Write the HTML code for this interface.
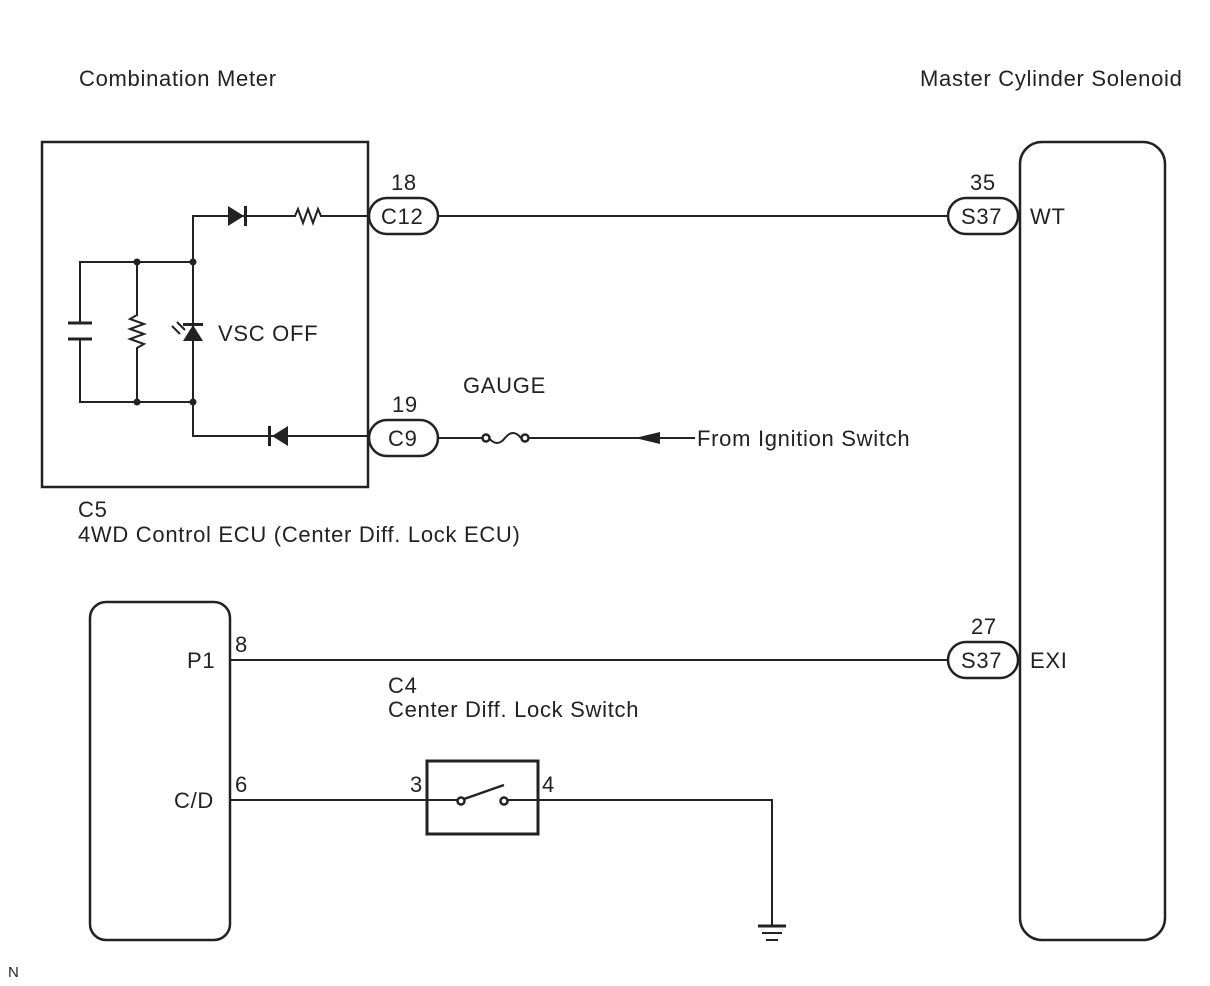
<!DOCTYPE html>
<html><head><meta charset="utf-8"><style>
html,body{margin:0;padding:0;background:#fff;}
svg{display:block;font-family:"Liberation Sans",Arial,sans-serif;}
text{fill:#222;font-size:22px;letter-spacing:0.7px;}
</style></head><body>
<svg width="1210" height="986" viewBox="0 0 1210 986" xmlns="http://www.w3.org/2000/svg">
<g stroke="#222" stroke-width="2.5" fill="none">
<rect x="42" y="142" width="326" height="345"/>
<rect x="1020" y="142" width="145" height="798" rx="22"/>
<rect x="90" y="602" width="140" height="338" rx="16"/>
<rect x="369" y="198" width="69" height="36" rx="18" fill="#fff"/>
<rect x="948" y="198" width="70" height="36" rx="18" fill="#fff"/>
<rect x="369" y="420" width="69" height="36" rx="18" fill="#fff"/>
<rect x="948" y="642" width="70" height="36" rx="18" fill="#fff"/>
<line x1="438" y1="216" x2="948" y2="216" stroke-width="2"/>
<line x1="438" y1="438" x2="483" y2="438" stroke-width="2"/>
<line x1="527" y1="438" x2="695" y2="438" stroke-width="2"/>
<line x1="230" y1="660" x2="948" y2="660" stroke-width="2"/>
<line x1="230" y1="800" x2="427" y2="800" stroke-width="2"/>
<polyline points="538,800 772,800 772,925" stroke-width="2"/>
<polyline points="368,216 325,216" stroke-width="2"/>
<polyline points="292,216 193,216 193,436 368,436" stroke-width="2"/>
<polyline points="292,216 295,216 298,209 303,223 308,209 313,223 318,209 321,216 325,216" stroke-width="2"/>
<polyline points="80,323 80,262 193,262" stroke-width="2"/>
<polyline points="80,339 80,402 193,402" stroke-width="2"/>
<line x1="68" y1="323" x2="92" y2="323" stroke-width="3"/>
<line x1="68" y1="339" x2="92" y2="339" stroke-width="3"/>
<polyline points="137,262 137,315 130,319 144,324 130,329 144,334 130,339 144,344 137,348 137,402" stroke-width="2"/>
<circle cx="486" cy="438" r="3.5" fill="#fff"/>
<circle cx="525" cy="438" r="3.5" fill="#fff"/>
<path d="M489 438 Q497 448 505 438 Q513 428 521 438" stroke-width="2"/>
<line x1="758" y1="926" x2="786" y2="926" stroke-width="3"/>
<line x1="762" y1="933" x2="782" y2="933" stroke-width="2"/>
<line x1="766" y1="940" x2="778" y2="940" stroke-width="2"/>
<rect x="427" y="761" width="111" height="73" stroke-width="3"/>
<line x1="427" y1="800" x2="458" y2="800" stroke-width="2"/>
<line x1="508" y1="800" x2="538" y2="800" stroke-width="2"/>
<circle cx="461" cy="801" r="3.5" fill="#fff"/>
<circle cx="504" cy="801" r="3.5" fill="#fff"/>
<line x1="464" y1="799" x2="504" y2="785" stroke-width="2.5"/>
<line x1="172" y1="326" x2="180" y2="334" stroke-width="2"/>
<line x1="177" y1="322" x2="185" y2="330" stroke-width="2"/>
</g>
<g fill="#222" stroke="none">
<polygon points="228,206 228,226 244,216"/>
<rect x="244" y="206" width="3" height="20"/>
<polygon points="288,426 288,446 272,436"/>
<rect x="268" y="426" width="3" height="20"/>
<polygon points="183,341 203,341 193,325"/>
<rect x="183" y="323" width="20" height="3"/>
<circle cx="137" cy="262" r="3.5"/><circle cx="193" cy="262" r="3.5"/>
<circle cx="137" cy="402" r="3.5"/><circle cx="193" cy="402" r="3.5"/>
<polygon points="635,438 660,432 660,444"/>
</g>
<text x="79" y="86">Combination Meter</text>
<text x="920" y="86">Master Cylinder Solenoid</text>
<text x="391" y="190">18</text>
<text x="381" y="224">C12</text>
<text x="970" y="190">35</text>
<text x="961" y="224">S37</text>
<text x="1030" y="224">WT</text>
<text x="218" y="341">VSC OFF</text>
<text x="463" y="393">GAUGE</text>
<text x="392" y="412">19</text>
<text x="388" y="446">C9</text>
<text x="697" y="446">From Ignition Switch</text>
<text x="78" y="517">C5</text>
<text x="78" y="542">4WD Control ECU (Center Diff. Lock ECU)</text>
<text x="971" y="634">27</text>
<text x="961" y="668">S37</text>
<text x="1030" y="668">EXI</text>
<text x="187" y="668">P1</text>
<text x="235" y="652">8</text>
<text x="388" y="693">C4</text>
<text x="388" y="717">Center Diff. Lock Switch</text>
<text x="174" y="808">C/D</text>
<text x="235" y="792">6</text>
<text x="410" y="792">3</text>
<text x="542" y="792">4</text>
<text x="8" y="977" style="font-size:15px;letter-spacing:0">N</text>
</svg>
</body></html>
